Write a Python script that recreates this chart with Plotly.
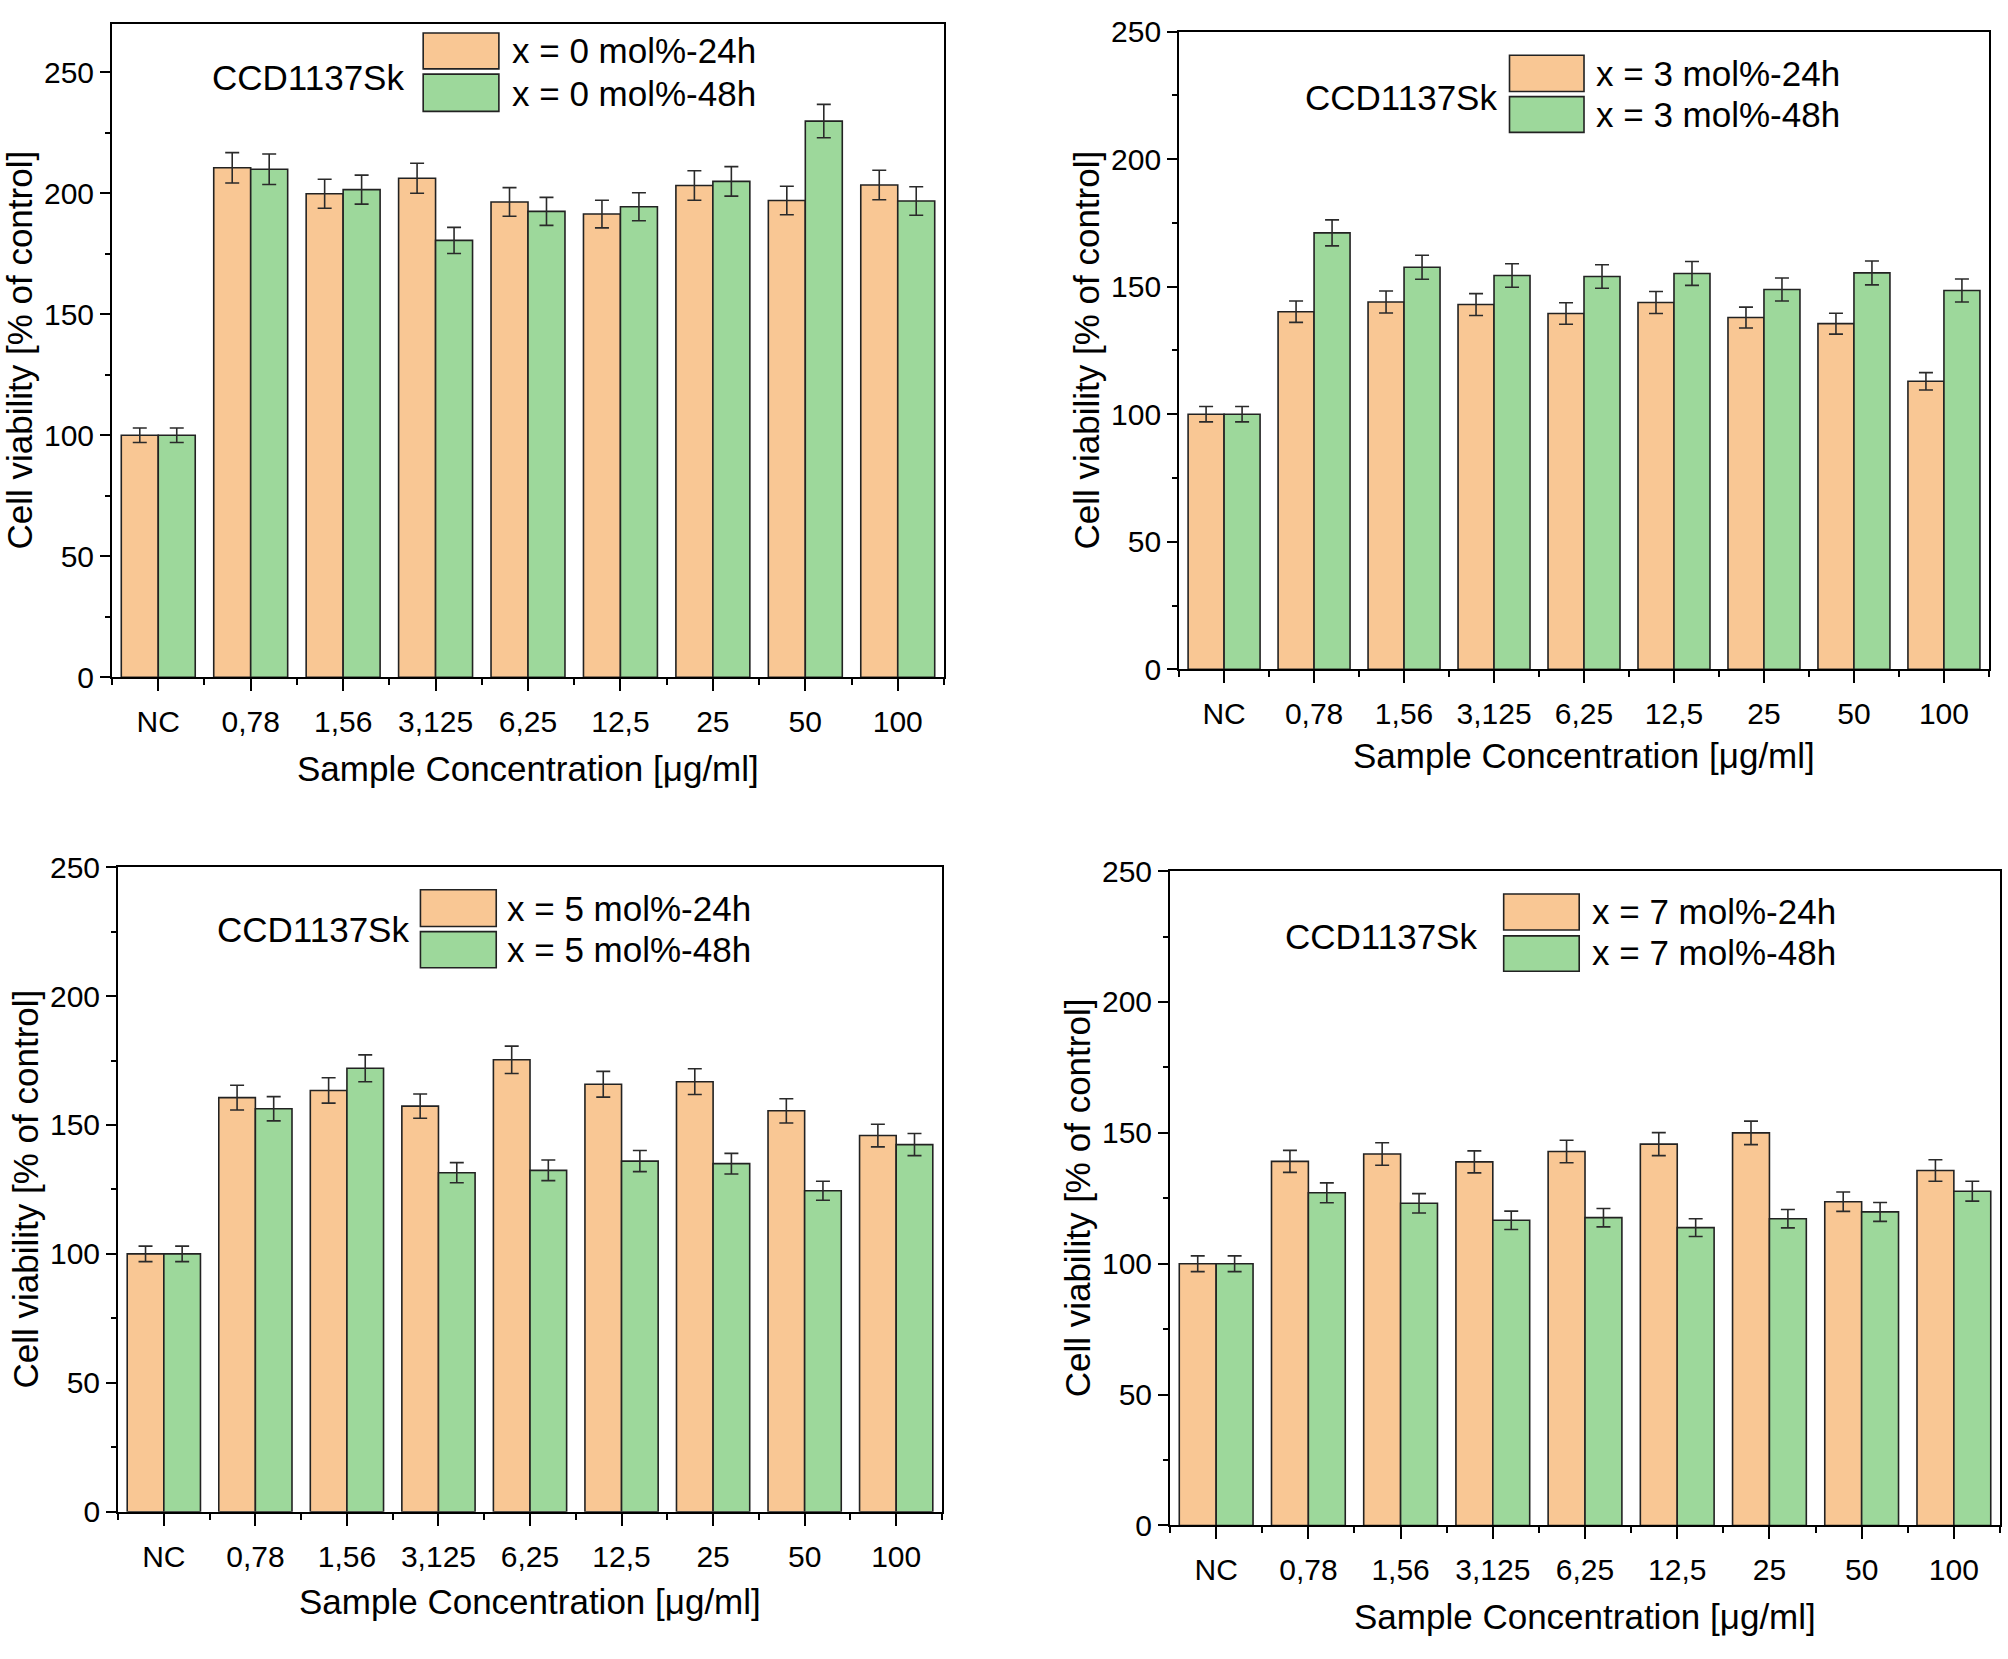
import plotly.graph_objects as go

categories = ["NC", "0,78", "1,56", "3,125", "6,25", "12,5", "25", "50", "100"]

# x = 0 mol%
v24_0 = [100, 210.5, 199.8, 206.2, 196.4, 191.4, 203.2, 197.0, 203.4]
v48_0 = [100, 209.9, 201.5, 180.5, 192.5, 194.4, 204.9, 229.8, 196.8]
e24_0 = [3.0, 6.3, 6.0, 6.2, 5.9, 5.7, 6.1, 5.9, 6.1]
e48_0 = [3.0, 6.3, 6.0, 5.4, 5.8, 5.8, 6.1, 6.9, 5.9]

# x = 3 mol%
v24_3 = [100, 140.2, 144.0, 143.0, 139.5, 143.8, 137.9, 135.5, 112.9]
v48_3 = [100, 171.1, 157.6, 154.4, 154.0, 155.2, 148.9, 155.4, 148.5]
e24_3 = [3.0, 4.2, 4.3, 4.3, 4.2, 4.3, 4.1, 4.1, 3.4]
e48_3 = [3.0, 5.1, 4.7, 4.6, 4.6, 4.7, 4.5, 4.7, 4.5]

# x = 5 mol%
v24_5 = [100, 160.6, 163.4, 157.3, 175.3, 165.8, 166.8, 155.5, 145.9]
v48_5 = [100, 156.3, 172.0, 131.5, 132.4, 136.0, 135.0, 124.5, 142.4]
e24_5 = [3.0, 4.8, 4.9, 4.7, 5.3, 5.0, 5.0, 4.7, 4.4]
e48_5 = [3.0, 4.7, 5.2, 3.9, 4.0, 4.1, 4.0, 3.7, 4.3]

# x = 7 mol%
v24_7 = [100, 139.1, 141.9, 138.9, 142.9, 145.7, 150.0, 123.7, 135.6]
v48_7 = [100, 127.1, 123.1, 116.6, 117.6, 113.8, 117.2, 119.8, 127.7]
e24_7 = [3.0, 4.2, 4.3, 4.2, 4.3, 4.4, 4.5, 3.7, 4.1]
e48_7 = [3.0, 3.8, 3.7, 3.5, 3.5, 3.4, 3.5, 3.6, 3.8]

series_names = [
    ("x = 0 mol%-24h", "x = 0 mol%-48h"),
    ("x = 3 mol%-24h", "x = 3 mol%-48h"),
    ("x = 5 mol%-24h", "x = 5 mol%-48h"),
    ("x = 7 mol%-24h", "x = 7 mol%-48h"),
]
cell_line = "CCD1137Sk"
x_title = "Sample Concentration [μg/ml]"
y_title = "Cell viability [% of control]"
y_max = [270, 250, 250, 250]

ORANGE = "#F9C794"
GREEN = "#9DD89B"
EDGE = "#222222"
FONT = "Liberation Sans, Arial, sans-serif"
TICK_SIZE = 30
TEXT_SIZE = 35

data = [
    (v24_0, e24_0, v48_0, e48_0),
    (v24_3, e24_3, v48_3, e48_3),
    (v24_5, e24_5, v48_5, e48_5),
    (v24_7, e24_7, v48_7, e48_7),
]

# layout: panel domains (paper fractions)
dom_x = [[0.0558, 0.4701], [0.5872, 0.9905], [0.0588, 0.4691], [0.5827, 0.9960]]
dom_y = [[0.5937, 0.9958], [0.5986, 0.9910], [0.0802, 0.4768], [0.0717, 0.4744]]
xtitle_shift = [-91, -86, -90, -91]
# legend geometry per panel in axis-domain fractions
leg = [
    dict(bx=(0.374, 0.465), o=(0.931, 0.986), g=(0.866, 0.923), tx=0.478, r1=0.959, r2=0.894, cx=0.353, cy=0.918),
    dict(bx=(0.408, 0.500), o=(0.906, 0.963), g=(0.842, 0.898), tx=0.512, r1=0.935, r2=0.870, cx=0.395, cy=0.897),
    dict(bx=(0.367, 0.459), o=(0.908, 0.965), g=(0.844, 0.900), tx=0.470, r1=0.936, r2=0.872, cx=0.355, cy=0.904),
    dict(bx=(0.402, 0.493), o=(0.910, 0.965), g=(0.847, 0.901), tx=0.506, r1=0.938, r2=0.875, cx=0.372, cy=0.900),
]

pos = list(range(len(categories)))
minor_vals = [p - 0.5 for p in pos] + [pos[-1] + 0.5]

fig = go.Figure()
shapes = []
annotations = []

for i in range(4):
    xa = "x" if i == 0 else f"x{i+1}"
    ya = "y" if i == 0 else f"y{i+1}"
    v24, e24, v48, e48 = data[i]
    n24, n48 = series_names[i]
    for vals, errs, name, col in ((v24, e24, n24, ORANGE), (v48, e48, n48, GREEN)):
        fig.add_trace(go.Bar(
            x=pos, y=vals, name=name, xaxis=xa, yaxis=ya,
            marker=dict(color=col, line=dict(color=EDGE, width=1.6)),
            error_y=dict(type="data", array=errs, visible=True,
                         color="#2a2a2a", thickness=1.6, width=7),
            showlegend=False,
        ))
    xk = "xaxis" if i == 0 else f"xaxis{i+1}"
    yk = "yaxis" if i == 0 else f"yaxis{i+1}"
    fig.layout[xk] = dict(
        domain=dom_x[i], anchor=ya, range=[-0.5, len(categories) - 0.5],
        tickmode="array", tickvals=pos, ticktext=categories,
        ticks="outside", ticklen=12, tickwidth=2, tickcolor="black",
        ticklabelstandoff=5,
        minor=dict(tickmode="array", tickvals=minor_vals, ticks="outside",
                   ticklen=6, tickwidth=2, tickcolor="black"),
        showline=True, linewidth=2, linecolor="black", mirror=True,
        showgrid=False, zeroline=False,
        tickfont=dict(family=FONT, size=TICK_SIZE, color="black"),
    )
    fig.layout[yk] = dict(
        domain=dom_y[i], anchor=xa, range=[0, y_max[i]],
        tickmode="linear", tick0=0, dtick=50,
        ticks="outside", ticklen=10, tickwidth=2, tickcolor="black",
        minor=dict(dtick=25, tick0=0, ticks="outside", ticklen=5,
                   tickwidth=2, tickcolor="black"),
        showline=True, linewidth=2, linecolor="black", mirror=True,
        showgrid=False, zeroline=False,
        tickfont=dict(family=FONT, size=TICK_SIZE, color="black"),
    )
    xd = f"{xa} domain"
    yd = f"{ya} domain"
    L = leg[i]
    shapes.append(dict(type="rect", xref=xd, yref=yd, x0=L["bx"][0], x1=L["bx"][1],
                       y0=L["o"][0], y1=L["o"][1], fillcolor=ORANGE,
                       line=dict(color=EDGE, width=1.6)))
    shapes.append(dict(type="rect", xref=xd, yref=yd, x0=L["bx"][0], x1=L["bx"][1],
                       y0=L["g"][0], y1=L["g"][1], fillcolor=GREEN,
                       line=dict(color=EDGE, width=1.6)))
    tf = dict(family=FONT, size=TEXT_SIZE, color="black")
    annotations.append(dict(xref=xd, yref=yd, x=L["tx"], y=L["r1"], text=n24,
                            xanchor="left", yanchor="middle", showarrow=False, font=tf))
    annotations.append(dict(xref=xd, yref=yd, x=L["tx"], y=L["r2"], text=n48,
                            xanchor="left", yanchor="middle", showarrow=False, font=tf))
    annotations.append(dict(xref=xd, yref=yd, x=L["cx"], y=L["cy"], text=cell_line,
                            xanchor="right", yanchor="middle", showarrow=False, font=tf))
    annotations.append(dict(xref=xd, yref=yd, x=0.5, y=0, yshift=xtitle_shift[i], text=x_title,
                            xanchor="center", yanchor="middle", showarrow=False, font=tf))
    annotations.append(dict(xref=xd, yref=yd, x=0, y=0.5, xshift=-93, text=y_title,
                            textangle=-90, xanchor="center", yanchor="middle",
                            showarrow=False, font=tf))

fig.update_layout(
    width=2008, height=1659,
    margin=dict(l=0, r=0, t=0, b=0),
    paper_bgcolor="white", plot_bgcolor="white",
    barmode="group", bargap=0.2, bargroupgap=0,
    shapes=shapes, annotations=annotations,
    font=dict(family=FONT, color="black"),
    hovermode=False,
)

fig.write_html("out.html", config={"displayModeBar": False, "staticPlot": True},
               post_script="document.body.style.margin='0';")
